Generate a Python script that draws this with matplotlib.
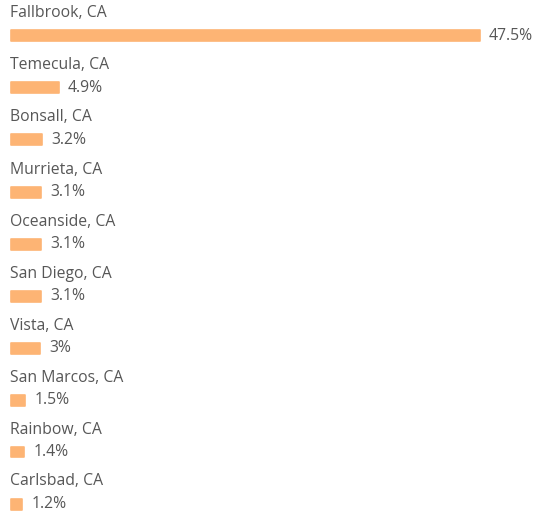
import matplotlib
matplotlib.use("Agg")
import matplotlib.pyplot as plt

cities = ["Fallbrook, CA", "Temecula, CA", "Bonsall, CA", "Murrieta, CA", "Oceanside, CA",
          "San Diego, CA", "Vista, CA", "San Marcos, CA", "Rainbow, CA", "Carlsbad, CA"]
values = [47.5, 4.9, 3.2, 3.1, 3.1, 3.1, 3.0, 1.5, 1.4, 1.2]
value_labels = ["47.5%", "4.9%", "3.2%", "3.1%", "3.1%", "3.1%", "3%", "1.5%", "1.4%", "1.2%"]

W, H = 535, 517
fig = plt.figure(figsize=(W / 100, H / 100), dpi=100)
ax = fig.add_axes([10 / W, 0, 1 - 10 / W, 1])
px_per_unit = 469 / 47.5
ax.set_xlim(0, (W - 10) / px_per_unit)
row = 52.0
ax.set_ylim((H - 36) / row, -36 / row)
ax.axis("off")

color = "#FDB474"
text_color = "#575757"
font = "Open Sans"
ypos = list(range(len(cities)))
ax.barh(ypos, values, height=11 / row, color=color, edgecolor=color, linewidth=1.2,
        joinstyle="round", left=0.06)
for y, name, v, lab in zip(ypos, cities, values, value_labels):
    ax.text(0, y - 22.5 / row, name, ha="left", va="center", fontsize=11.3,
            color=text_color, family=font)
    ax.annotate(lab, xy=(v, y), xytext=(7, 0), textcoords="offset points",
                ha="left", va="center", fontsize=11.3, color=text_color, family=font)

fig.savefig("out.png", dpi=100)
